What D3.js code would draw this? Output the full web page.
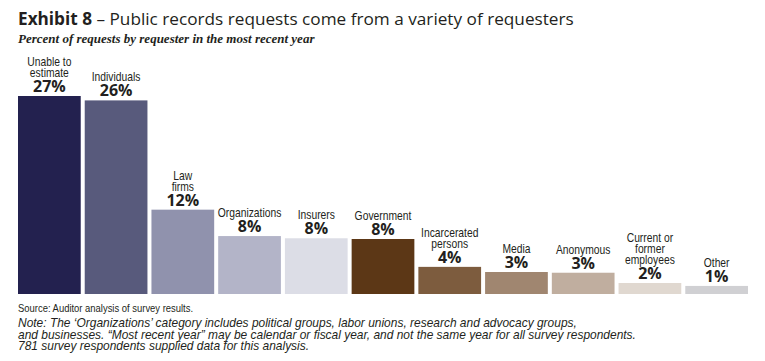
<!DOCTYPE html>
<html>
<head>
<meta charset="utf-8">
<script src="https://cdn.jsdelivr.net/npm/d3@7"></script>
<style>
  body { margin: 0; background: #fff; }
  svg { display: block; }
</style>
</head>
<body>
<svg id="chart" width="765" height="361"></svg>
<script>
'use strict';

const categories = [
  'Unable to\nestimate', 'Individuals', 'Law\nfirms', 'Organizations', 'Insurers',
  'Government', 'Incarcerated\npersons', 'Media', 'Anonymous',
  'Current or\nformer\nemployees', 'Other'
];
const values = [27, 26.4, 11.5, 7.9, 7.6, 7.5, 3.7, 3.0, 2.9, 1.5, 1.1];
const pctLabels = ['27%', '26%', '12%', '8%', '8%', '8%', '4%', '3%', '3%', '2%', '1%'];
const colors = [
  '#23214f', '#585a7c', '#9092ad', '#b3b4c8', '#dcdde6',
  '#5c3716', '#7d5c3e', '#a08670', '#c0ae9f', '#e0d8d0', '#d0d0d3'
];
const noteLines = [
  'Note: The \u2018Organizations\u2019 category includes political groups, labor unions, research and advocacy groups,',
  'and businesses. \u201cMost recent year\u201d may be calendar or fiscal year, and not the same year for all survey respondents.',
  '781 survey respondents supplied data for this analysis.'
];

const data = categories.map((c, i) => ({
  name: c, value: values[i], label: pctLabels[i], color: colors[i]
}));

const svg = d3.select('#chart');
const sans = '"Liberation Sans", Arial, sans-serif';
const ink = '#231f20';

// scales
const x = d3.scaleBand()
  .domain(data.map(d => d.name))
  .range([18, 748])
  .paddingInner(0.06)
  .paddingOuter(0);
const y = d3.scaleLinear()
  .domain([0, 27])
  .range([294, 96]);

// title
const title = svg.append('text')
  .attr('x', 18).attr('y', 25)
  .style('font-family', '"Open Sans", sans-serif')
  .style('font-size', '17.2px')
  .style('fill', ink);
title.append('tspan').style('font-weight', 700).text('Exhibit 8');
title.append('tspan').text(' \u2013 Public records requests come from a variety of requesters');

svg.append('text')
  .attr('x', 18).attr('y', 43)
  .style('font-family', '"Liberation Serif", serif')
  .style('font-weight', 700)
  .style('font-style', 'italic')
  .style('font-size', '13px')
  .style('fill', ink)
  .text('Percent of requests by requester in the most recent year');

// bars
svg.append('g').selectAll('rect')
  .data(data)
  .join('rect')
  .attr('x', d => x(d.name))
  .attr('y', d => y(d.value))
  .attr('width', x.bandwidth())
  .attr('height', d => y(0) - y(d.value))
  .attr('fill', d => d.color);

// labels above bars
const lab = svg.append('g').selectAll('g')
  .data(data)
  .join('g')
  .attr('transform', d => `translate(${x(d.name) + x.bandwidth() / 2},${y(d.value) - 4})`);

lab.append('text')
  .attr('text-anchor', 'middle')
  .style('font-family', '"Open Sans", sans-serif')
  .style('font-weight', 700)
  .style('font-size', '16px')
  .style('fill', ink)
  .text(d => d.label);

// category names, squeezed sideways to look like a condensed face
lab.each(function (d) {
  const lines = d.name.split('\n');
  const g = d3.select(this).append('g').attr('transform', 'scale(0.86,1)');
  lines.forEach((ln, i) => {
    g.append('text')
      .attr('text-anchor', 'middle')
      .attr('y', -15 - (lines.length - 1 - i) * 11)
      .style('font-family', sans)
      .style('font-size', '12px')
      .style('fill', ink)
      .text(ln);
  });
});

// footer
svg.append('text')
  .attr('transform', 'translate(18,312) scale(0.9,1)')
  .style('font-family', sans)
  .style('font-size', '10.5px')
  .style('fill', ink)
  .text('Source: Auditor analysis of survey results.');

svg.append('g').selectAll('text')
  .data(noteLines)
  .join('text')
  .attr('transform', (d, i) => `translate(18,${327 + i * 11.5}) scale(0.92,1)`)
  .style('font-family', sans)
  .style('font-style', 'italic')
  .style('font-size', '13px')
  .style('fill', ink)
  .text(d => d);
</script>
</body>
</html>
